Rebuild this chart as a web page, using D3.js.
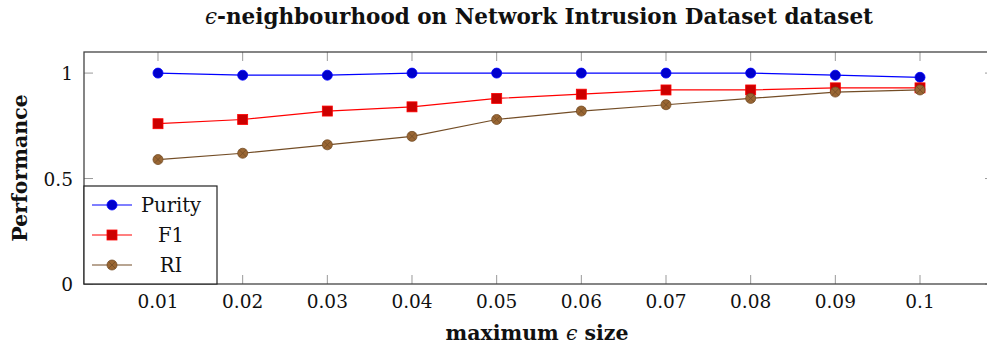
<!DOCTYPE html>
<html>
<head>
<meta charset="utf-8">
<script src="https://cdn.jsdelivr.net/npm/d3@7"></script>
<style>
  body { margin: 0; background: #fff; }
  svg text { font-family: "DejaVu Serif", "Liberation Serif", serif; fill: #111; }
</style>
</head>
<body>
<div id="chart"></div>
<script>
// Data
var epsilonSizes = [0.01, 0.02, 0.03, 0.04, 0.05, 0.06, 0.07, 0.08, 0.09, 0.1];
var xTickLabels = ["0.01", "0.02", "0.03", "0.04", "0.05", "0.06", "0.07", "0.08", "0.09", "0.1"];
var purityValues = [1, 0.99, 0.99, 1, 1, 1, 1, 1, 0.99, 0.98];
var f1Values = [0.76, 0.78, 0.82, 0.84, 0.88, 0.90, 0.92, 0.92, 0.93, 0.93];
var riValues = [0.59, 0.62, 0.66, 0.70, 0.78, 0.82, 0.85, 0.88, 0.91, 0.92];
var yTicks = [0, 0.5, 1];
var seriesNames = ["Purity", "F1", "RI"];

var chartWidth = 987;
var chartHeight = 350;
var plotLeft = 84, plotRight = 994, plotTop = 52, plotBottom = 284;

var svgChart = d3.select("#chart")
  .append("svg")
  .attr("width", chartWidth)
  .attr("height", chartHeight);

// scales (x limits enlarged a bit like pgfplots does)
var xScale = d3.scaleLinear()
  .domain([0.00126, 0.10874])
  .range([plotLeft, plotRight]);
var yScale = d3.scaleLinear()
  .domain([0, 1.1])
  .range([plotBottom, plotTop]);

// series styles (pgfplots default cycle)
var seriesList = [
  { name: seriesNames[0], values: purityValues, line: "#0000ff", fill: "#0000cc", mark: "circle" },
  { name: seriesNames[1], values: f1Values, line: "#ff0000", fill: "#cc0000", mark: "square" },
  { name: seriesNames[2], values: riValues, line: "#734d26", fill: "#996633", mark: "otimes" }
];

// ticks, inward, on all four sides
var tickLen = 9;
var tickGroup = svgChart.append("g").attr("stroke", "#999").attr("stroke-width", 1);
epsilonSizes.forEach(function (v) {
  tickGroup.append("line").attr("x1", xScale(v)).attr("x2", xScale(v))
    .attr("y1", plotBottom).attr("y2", plotBottom - tickLen);
  tickGroup.append("line").attr("x1", xScale(v)).attr("x2", xScale(v))
    .attr("y1", plotTop).attr("y2", plotTop + tickLen);
});
yTicks.forEach(function (v) {
  tickGroup.append("line").attr("x1", plotLeft).attr("x2", plotLeft + tickLen)
    .attr("y1", yScale(v)).attr("y2", yScale(v));
  tickGroup.append("line").attr("x1", plotRight).attr("x2", plotRight - tickLen)
    .attr("y1", yScale(v)).attr("y2", yScale(v));
});

// axis box
svgChart.append("rect")
  .attr("x", plotLeft).attr("y", plotTop)
  .attr("width", plotRight - plotLeft).attr("height", plotBottom - plotTop)
  .attr("fill", "none").attr("stroke", "#444").attr("stroke-width", 1.3);

// tick labels
svgChart.append("g").selectAll("text")
  .data(epsilonSizes)
  .enter().append("text")
  .attr("x", function (d) { return xScale(d); })
  .attr("y", plotBottom + 24)
  .attr("text-anchor", "middle")
  .style("font-size", "18.5px")
  .text(function (d, i) { return xTickLabels[i]; });

svgChart.append("g").selectAll("text")
  .data(yTicks)
  .enter().append("text")
  .attr("x", plotLeft - 11)
  .attr("y", function (d) { return yScale(d) + 7; })
  .attr("text-anchor", "end")
  .style("font-size", "18.5px")
  .text(function (d) { return d; });

// draw a marker of a given kind
function drawMark(g, s, x, y) {
  if (s.mark === "circle") {
    g.append("circle").attr("cx", x).attr("cy", y).attr("r", 5)
      .attr("fill", s.fill).attr("stroke", s.line).attr("stroke-width", 0.8);
  } else if (s.mark === "square") {
    g.append("rect").attr("x", x - 5).attr("y", y - 5).attr("width", 10).attr("height", 10)
      .attr("fill", s.fill).attr("stroke", s.line).attr("stroke-width", 0.8);
  } else {
    g.append("circle").attr("cx", x).attr("cy", y).attr("r", 5)
      .attr("fill", s.fill).attr("stroke", s.line).attr("stroke-width", 0.8);
    var k = 5 * Math.SQRT1_2;
    g.append("path")
      .attr("d", "M" + (x - k) + "," + (y - k) + "L" + (x + k) + "," + (y + k) +
        "M" + (x - k) + "," + (y + k) + "L" + (x + k) + "," + (y - k))
      .attr("stroke", s.line).attr("stroke-width", 0.8);
  }
}

// lines and markers
var lineGen = d3.line()
  .x(function (d, i) { return xScale(epsilonSizes[i]); })
  .y(function (d) { return yScale(d); });

seriesList.forEach(function (s) {
  var g = svgChart.append("g");
  g.append("path")
    .attr("d", lineGen(s.values))
    .attr("fill", "none")
    .attr("stroke", s.line)
    .attr("stroke-width", 1.2);
  s.values.forEach(function (v, i) { drawMark(g, s, xScale(epsilonSizes[i]), yScale(v)); });
});

// legend, bottom left corner
var legendBox = { x: plotLeft, y: 186, w: 133, h: plotBottom - 186 };
var legend = svgChart.append("g");
legend.append("rect")
  .attr("x", legendBox.x).attr("y", legendBox.y)
  .attr("width", legendBox.w).attr("height", legendBox.h)
  .attr("fill", "#fff").attr("stroke", "#222").attr("stroke-width", 1.2);
seriesList.forEach(function (s, i) {
  var ly = 205 + i * 30;
  legend.append("line")
    .attr("x1", 92).attr("x2", 132).attr("y1", ly).attr("y2", ly)
    .attr("stroke", s.line).attr("stroke-width", 1.2);
  drawMark(legend, s, 112, ly);
  legend.append("text")
    .attr("x", 171).attr("y", ly + 7)
    .attr("text-anchor", "middle")
    .style("font-size", "19.5px")
    .text(s.name);
});

// titles
svgChart.append("text")
  .attr("x", (plotLeft + plotRight) / 2).attr("y", 24)
  .attr("text-anchor", "middle")
  .style("font-size", "21.5px").style("font-weight", "bold")
  .html("<tspan style='font-style:italic;font-weight:normal'>ϵ</tspan>-neighbourhood on Network Intrusion Dataset dataset");

svgChart.append("text")
  .attr("x", (plotLeft + plotRight) / 2 - 2).attr("y", 340)
  .attr("text-anchor", "middle")
  .style("font-size", "20.5px").style("font-weight", "bold")
  .html("maximum <tspan style='font-style:italic;font-weight:normal'>ϵ</tspan> size");

svgChart.append("text")
  .attr("transform", "translate(27," + ((plotTop + plotBottom) / 2) + ") rotate(-90)")
  .attr("text-anchor", "middle")
  .style("font-size", "20.5px").style("font-weight", "bold")
  .text("Performance");
</script>
</body>
</html>
